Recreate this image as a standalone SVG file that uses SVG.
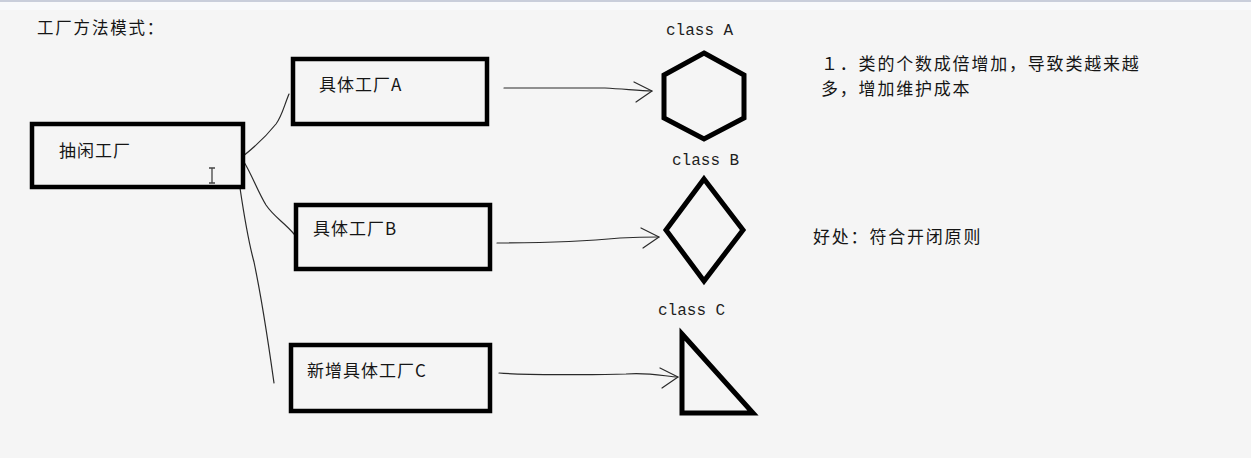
<svg xmlns="http://www.w3.org/2000/svg" width="1251" height="458" viewBox="0 0 1251 458">
<style>
.bg{fill:#f5f5f5}
.box{fill:none;stroke:#000;stroke-width:4.5}
.shape{fill:none;stroke:#000;stroke-width:5;stroke-linejoin:miter}
.conn{fill:none;stroke:#2a2a2a;stroke-width:1.2;stroke-linecap:round}
.cjk{font-family:"Noto Sans CJK SC","Liberation Sans",sans-serif;fill:#151515}
.lbl{font-size:17px;letter-spacing:1px}
.note{font-size:17px;letter-spacing:1.8px}
.cls{font-family:"Liberation Mono","DejaVu Sans Mono",monospace;font-size:16px;fill:#1e1e1e}
</style>
<defs>
<marker id="open" markerUnits="userSpaceOnUse" markerWidth="30" markerHeight="30" viewBox="-22 -15 26 30" refX="0" refY="0" orient="auto">
<path d="M-18,-9 L0,0 L-16,11" fill="none" stroke="#2a2a2a" stroke-width="1.2" stroke-linecap="round" stroke-linejoin="round"/>
</marker>
</defs>
<rect class="bg" x="0" y="0" width="1251" height="458"/>
<rect x="0" y="0" width="1251" height="2" fill="#c9cedb"/>
<rect x="0" y="2" width="1251" height="8" fill="#f8f9fb"/>

<g id="title">
<text class="cjk" x="37" y="34" font-size="16.5" letter-spacing="1.8">工厂方法模式：</text>
</g>

<g id="connectors">
<path class="conn" d="M242,157 C256,146 268,134 276,124 C282,116 284,106 289,94"/>
<path class="conn" d="M244,162 C252,175 258,192 266,205 C274,217 284,222 294,234"/>
<path class="conn" d="M240,188 C244,215 248,240 254,262 C262,300 268,340 274,383"/>
<path class="conn" marker-end="url(#open)" d="M504,88 L605,88 C625,89 640,91 652,91"/>
<path class="conn" marker-end="url(#open)" d="M497,243 C560,243 600,240 620,238 C640,237 650,237 659,237"/>
<path class="conn" marker-end="url(#open)" d="M499,373 C520,375 600,375 626,374 C650,372 668,377 678,377"/>
</g>

<g id="abstract-factory">
<rect class="box" x="32" y="124" width="211" height="63"/>
<text class="cjk lbl" x="59" y="157">抽闲工厂</text>
<path d="M209,168 H215 M212,168 V183 M209,183 H215" fill="none" stroke="#444" stroke-width="1.3"/>
</g>

<g id="factory-a">
<rect class="box" x="293" y="59" width="194" height="65"/>
<text class="cjk lbl" x="319" y="91">具体工厂A</text>
</g>

<g id="factory-b">
<rect class="box" x="296" y="205" width="194" height="64"/>
<text class="cjk lbl" x="313" y="235">具体工厂B</text>
</g>

<g id="factory-c">
<rect class="box" x="291" y="345" width="199" height="66"/>
<text class="cjk lbl" x="307" y="377">新增具体工厂C</text>
</g>

<g id="class-a">
<text class="cls" x="666" y="35">class A</text>
<polygon class="shape" points="704,53 744,75 744,118 704,139 664,118 664,75"/>
</g>

<g id="class-b">
<text class="cls" x="672" y="165">class B</text>
<polygon class="shape" points="704,179 743,230 704,281 666,230"/>
</g>

<g id="class-c">
<text class="cls" x="658" y="315">class C</text>
<polygon class="shape" points="682,334 753,413 682,413"/>
</g>

<g id="notes">
<text class="cjk note" x="821" y="70">１．类的个数成倍增加，导致类越来越</text>
<text class="cjk note" x="821" y="95">多，增加维护成本</text>
<text class="cjk note" x="813" y="243">好处：符合开闭原则</text>
</g>
</svg>
